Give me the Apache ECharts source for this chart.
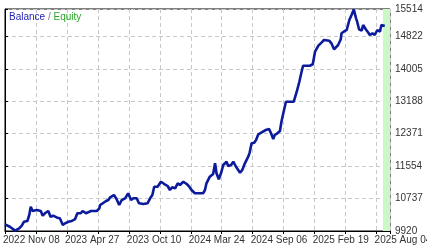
<!DOCTYPE html>
<html>
<head>
<meta charset="utf-8">
<script src="https://cdn.jsdelivr.net/npm/echarts@6/dist/echarts.min.js"></script>
<style>html,body{margin:0;padding:0;background:#fff}#c{width:427px;height:248px}</style>
</head>
<body>
<div id="c"></div>
<script>
// x: days since 2022-11-08
const days = [
  0,13,27,38,45,51,60,65,69,74,
  85,96,101,107,116,122,129,140,147,155,
  161,170,179,188,194,203,208,217,223,230,
  237,246,253,255,262,271,277,281,292,299,
  306,313,322,330,332,338,344,353,359,371,
  382,389,395,400,409,418,427,436,442,448,
  456,463,469,478,487,494,500,509,523,531,
  536,540,549,558,563,567,573,579,585,594,
  598,606,612,618,630,636,643,652,656,661,
  668,673,679,688,699,708,715,719,723,730,
  737,741,746,753,764,774,782,789,795,799,
  808,817,825,831,840,849,855,860,869,875,
  882,887,893,900,902,908,916,923,929,935,
  941,944,949,956,960,967,974,978,985,991,
  998,1005,1009,1014,1018
];
const balance = [
  10089,10028,9930,9988,10054,10154,10172,10323,10532,10424,
  10449,10424,10306,10366,10424,10280,10306,10255,10240,10071,
  10114,10154,10172,10222,10366,10366,10424,10366,10391,10424,
  10424,10424,10492,10575,10618,10676,10701,10759,10827,10726,
  10575,10701,10744,10870,10885,10701,10744,10744,10618,10600,
  10618,10744,10827,11036,11036,11162,11104,11054,10953,11021,
  10996,11122,11079,11162,11104,11036,10953,10870,10870,10870,
  10953,11122,11288,11356,11626,11374,11223,11374,11583,11666,
  11558,11583,11666,11558,11389,11457,11626,11792,11903,12130,
  12145,12213,12357,12407,12465,12490,12339,12238,12339,12382,
  12440,12674,12886,13178,13178,13178,13430,13682,13934,14085,
  14085,14085,14121,14438,14590,14675,14733,14690,14716,14650,
  14499,14481,14607,14751,14902,14942,14985,15237,15363,15500,
  15280,15194,15003,14968,15111,15003,14917,14859,14902,14859,
  14985,14942,15111,15136,15086
];
const xTickLabels = ['2022 Nov 08','2023 Apr 27','2023 Oct 10','2024 Mar 24','2024 Sep 06','2025 Feb 19','2025 Aug 04'];
const xLabelStep = 166;   // days between labelled ticks
const xGridStep = 83;     // days between grid lines
const xMax = 1032;
const yMin = 9920, yMax = 15514, yStep = 817;
const bandStart = 1013;   // green band start (days)

const FONT = "'Liberation Sans', Arial, sans-serif";
const chart = echarts.init(document.getElementById('c'), null, {renderer: 'canvas'});
chart.setOption({
  animation: false,
  backgroundColor: '#ffffff',
  title: {
    left: 4, top: 7,
    text: '{b|Balance}{s| / }{e|Equity}',
    textStyle: {
      fontFamily: FONT, fontSize: 10, fontWeight: 'normal',
      rich: {
        b: {color: '#2323b4', fontFamily: FONT, fontSize: 10},
        s: {color: '#808080', fontFamily: FONT, fontSize: 10},
        e: {color: '#2aa82a', fontFamily: FONT, fontSize: 10}
      }
    }
  },
  grid: {
    left: 5, top: 9, right: 37, bottom: 17,
    containLabel: false, outerBoundsMode: 'none',
    show: true, borderColor: '#000', borderWidth: 1, backgroundColor: 'transparent'
  },
  xAxis: {
    type: 'value', min: 0, max: xMax, interval: xGridStep,
    axisLine: {show: true, lineStyle: {color: '#000', width: 1}},
    axisTick: {show: true, length: 3, lineStyle: {color: '#000'}},
    splitLine: {show: true, lineStyle: {color: '#c8c8c8', type: [4, 3], width: 1}},
    axisLabel: {
      show: true, align: 'left', margin: 4, color: '#333',
      fontFamily: FONT, fontSize: 10, padding: [0, 0, 0, -2],
      showMinLabel: true, showMaxLabel: true, hideOverlap: false,
      formatter: function (v) {
        if (Math.abs(v % xLabelStep) < 1e-6) {
          const i = Math.round(v / xLabelStep);
          return xTickLabels[i] || '';
        }
        return '';
      }
    }
  },
  yAxis: {
    type: 'value', position: 'right', min: yMin, max: yMax, interval: yStep,
    axisLine: {show: true, lineStyle: {color: '#000', width: 1}},
    axisTick: {show: true, length: 3, lineStyle: {color: '#000'}},
    splitLine: {show: true, lineStyle: {color: '#c8c8c8', type: [4, 3], width: 1}},
    axisLabel: {
      show: true, margin: 5, color: '#333', fontFamily: FONT, fontSize: 10,
      showMinLabel: true, showMaxLabel: true,
      formatter: function (v) { return String(Math.round(v)); }
    }
  },
  series: [{
    type: 'line',
    data: days.map((d, i) => [d, balance[i]]),
    showSymbol: false,
    symbol: 'none',
    lineStyle: {color: '#0c1a9c', width: 2.6},
    z: 3,
    markArea: {
      silent: true,
      itemStyle: {color: '#ccf7c6', opacity: 1},
      data: [[{xAxis: bandStart}, {xAxis: xMax}]]
    }
  }]
});
</script>
</body>
</html>
